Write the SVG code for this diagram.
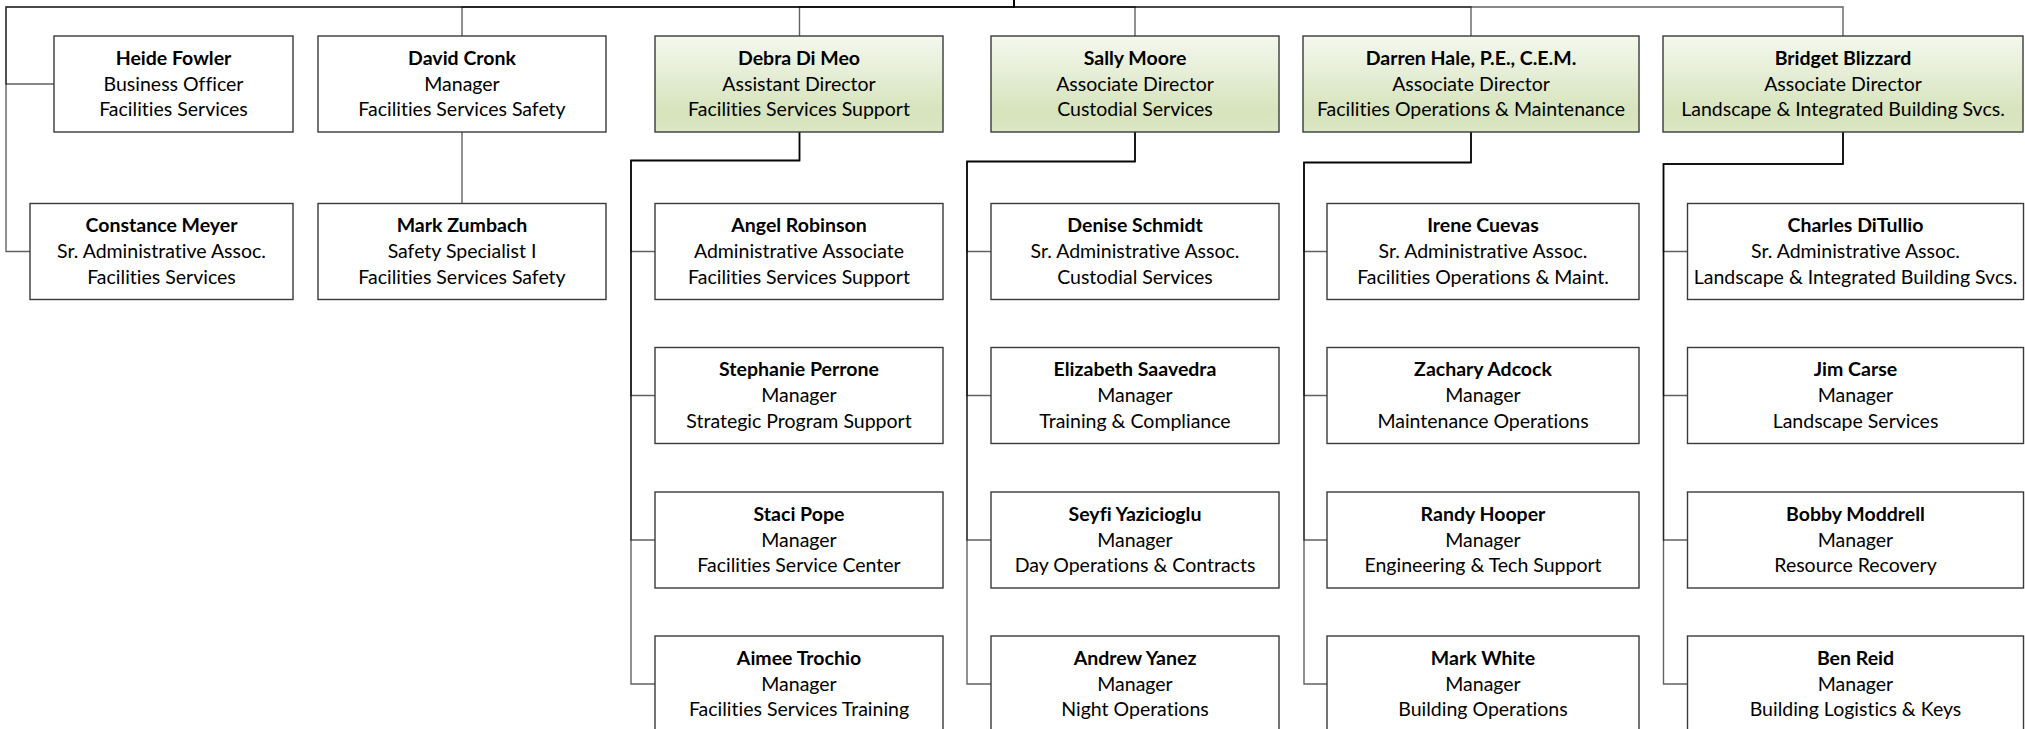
<svg xmlns="http://www.w3.org/2000/svg" width="2025" height="729" viewBox="0 0 2025 729">
<style>
.c{fill:none;stroke:#000;stroke-opacity:.62;stroke-width:1.4}
.b{fill:#fff;stroke:#3a3a3a;stroke-width:1.4}
.g{fill:url(#gr);stroke:#3a3a3a;stroke-width:1.4}
text{font-family:Lato,"Liberation Sans",sans-serif;font-size:19.5px;fill:#000;text-anchor:middle;font-variant-ligatures:none;font-feature-settings:"liga" 0}
.n{font-weight:bold}
</style>
<defs>
<linearGradient id="gr" x1="0" y1="0" x2="0" y2="1">
<stop offset="0" stop-color="#f4f8ee"/>
<stop offset="0.8" stop-color="#d6e3bc"/>
<stop offset="1" stop-color="#dbe6c5"/>
</linearGradient>
</defs>
<rect width="2025" height="729" fill="#fff"/>
<g id="connectors">
<path class="c" d="M1014,0V7H6V84H54"/>
<path class="c" d="M1014,0V7H6V251.5H30"/>
<path class="c" d="M1014,0V7H462V36"/>
<path class="c" d="M1014,0V7H799.5V36"/>
<path class="c" d="M1014,0V7H1135V36"/>
<path class="c" d="M1014,0V7H1471V36"/>
<path class="c" d="M1014,0V7H1843V36"/>
<path class="c" d="M462,132V203.5"/>
<path class="c" d="M799.5,132V160.5H631V251.5H655"/>
<path class="c" d="M799.5,132V160.5H631V395.5H655"/>
<path class="c" d="M799.5,132V160.5H631V540H655"/>
<path class="c" d="M799.5,132V160.5H631V684H655"/>
<path class="c" d="M1135,132V161.5H967V251.5H991"/>
<path class="c" d="M1135,132V161.5H967V395.5H991"/>
<path class="c" d="M1135,132V161.5H967V540H991"/>
<path class="c" d="M1135,132V161.5H967V684H991"/>
<path class="c" d="M1471,132V162.5H1304V251.5H1327"/>
<path class="c" d="M1471,132V162.5H1304V395.5H1327"/>
<path class="c" d="M1471,132V162.5H1304V540H1327"/>
<path class="c" d="M1471,132V162.5H1304V684H1327"/>
<path class="c" d="M1843,132V164H1663.5V251.5H1687.5"/>
<path class="c" d="M1843,132V164H1663.5V395.5H1687.5"/>
<path class="c" d="M1843,132V164H1663.5V540H1687.5"/>
<path class="c" d="M1843,132V164H1663.5V684H1687.5"/>
</g>
<g id="heide-fowler"><rect class="b" x="54" y="36" width="239" height="96"/><text x="173.5" y="64.5" class="n">Heide Fowler</text><text x="173.5" y="90.5">Business Officer</text><text x="173.5" y="116">Facilities Services</text></g>
<g id="david-cronk"><rect class="b" x="318" y="36" width="288" height="96"/><text x="462" y="64.5" class="n">David Cronk</text><text x="462" y="90.5">Manager</text><text x="462" y="116">Facilities Services Safety</text></g>
<g id="debra-di-meo"><rect class="g" x="655" y="36" width="288" height="96"/><text x="799" y="64.5" class="n">Debra Di Meo</text><text x="799" y="90.5">Assistant Director</text><text x="799" y="116">Facilities Services Support</text></g>
<g id="sally-moore"><rect class="g" x="991" y="36" width="288" height="96"/><text x="1135" y="64.5" class="n">Sally Moore</text><text x="1135" y="90.5">Associate Director</text><text x="1135" y="116">Custodial Services</text></g>
<g id="darren-hale"><rect class="g" x="1303" y="36" width="336" height="96"/><text x="1471" y="64.5" class="n">Darren Hale, P.E., C.E.M.</text><text x="1471" y="90.5">Associate Director</text><text x="1471" y="116">Facilities Operations &amp; Maintenance</text></g>
<g id="bridget-blizzard"><rect class="g" x="1663" y="36" width="360" height="96"/><text x="1843" y="64.5" class="n">Bridget Blizzard</text><text x="1843" y="90.5">Associate Director</text><text x="1843" y="116">Landscape &amp; Integrated Building Svcs.</text></g>
<g id="constance-meyer"><rect class="b" x="30" y="203.5" width="263" height="96"/><text x="161.5" y="232" class="n">Constance Meyer</text><text x="161.5" y="258">Sr. Administrative Assoc.</text><text x="161.5" y="283.5">Facilities Services</text></g>
<g id="mark-zumbach"><rect class="b" x="318" y="203.5" width="288" height="96"/><text x="462" y="232" class="n">Mark Zumbach</text><text x="462" y="258">Safety Specialist I</text><text x="462" y="283.5">Facilities Services Safety</text></g>
<g id="angel-robinson"><rect class="b" x="655" y="203.5" width="288" height="96"/><text x="799" y="232" class="n">Angel Robinson</text><text x="799" y="258">Administrative Associate</text><text x="799" y="283.5">Facilities Services Support</text></g>
<g id="stephanie-perrone"><rect class="b" x="655" y="347.5" width="288" height="96"/><text x="799" y="376" class="n">Stephanie Perrone</text><text x="799" y="402">Manager</text><text x="799" y="427.5">Strategic Program Support</text></g>
<g id="staci-pope"><rect class="b" x="655" y="492" width="288" height="96"/><text x="799" y="520.5" class="n">Staci Pope</text><text x="799" y="546.5">Manager</text><text x="799" y="572">Facilities Service Center</text></g>
<g id="aimee-trochio"><rect class="b" x="655" y="636" width="288" height="96"/><text x="799" y="664.5" class="n">Aimee Trochio</text><text x="799" y="690.5">Manager</text><text x="799" y="716">Facilities Services Training</text></g>
<g id="denise-schmidt"><rect class="b" x="991" y="203.5" width="288" height="96"/><text x="1135" y="232" class="n">Denise Schmidt</text><text x="1135" y="258">Sr. Administrative Assoc.</text><text x="1135" y="283.5">Custodial Services</text></g>
<g id="elizabeth-saavedra"><rect class="b" x="991" y="347.5" width="288" height="96"/><text x="1135" y="376" class="n">Elizabeth Saavedra</text><text x="1135" y="402">Manager</text><text x="1135" y="427.5">Training &amp; Compliance</text></g>
<g id="seyfi-yazicioglu"><rect class="b" x="991" y="492" width="288" height="96"/><text x="1135" y="520.5" class="n">Seyfi Yazicioglu</text><text x="1135" y="546.5">Manager</text><text x="1135" y="572">Day Operations &amp; Contracts</text></g>
<g id="andrew-yanez"><rect class="b" x="991" y="636" width="288" height="96"/><text x="1135" y="664.5" class="n">Andrew Yanez</text><text x="1135" y="690.5">Manager</text><text x="1135" y="716">Night Operations</text></g>
<g id="irene-cuevas"><rect class="b" x="1327" y="203.5" width="312" height="96"/><text x="1483" y="232" class="n">Irene Cuevas</text><text x="1483" y="258">Sr. Administrative Assoc.</text><text x="1483" y="283.5">Facilities Operations &amp; Maint.</text></g>
<g id="zachary-adcock"><rect class="b" x="1327" y="347.5" width="312" height="96"/><text x="1483" y="376" class="n">Zachary Adcock</text><text x="1483" y="402">Manager</text><text x="1483" y="427.5">Maintenance Operations</text></g>
<g id="randy-hooper"><rect class="b" x="1327" y="492" width="312" height="96"/><text x="1483" y="520.5" class="n">Randy Hooper</text><text x="1483" y="546.5">Manager</text><text x="1483" y="572">Engineering &amp; Tech Support</text></g>
<g id="mark-white"><rect class="b" x="1327" y="636" width="312" height="96"/><text x="1483" y="664.5" class="n">Mark White</text><text x="1483" y="690.5">Manager</text><text x="1483" y="716">Building Operations</text></g>
<g id="charles-ditullio"><rect class="b" x="1687.5" y="203.5" width="336" height="96"/><text x="1855.5" y="232" class="n">Charles DiTullio</text><text x="1855.5" y="258">Sr. Administrative Assoc.</text><text x="1855.5" y="283.5">Landscape &amp; Integrated Building Svcs.</text></g>
<g id="jim-carse"><rect class="b" x="1687.5" y="347.5" width="336" height="96"/><text x="1855.5" y="376" class="n">Jim Carse</text><text x="1855.5" y="402">Manager</text><text x="1855.5" y="427.5">Landscape Services</text></g>
<g id="bobby-moddrell"><rect class="b" x="1687.5" y="492" width="336" height="96"/><text x="1855.5" y="520.5" class="n">Bobby Moddrell</text><text x="1855.5" y="546.5">Manager</text><text x="1855.5" y="572">Resource Recovery</text></g>
<g id="ben-reid"><rect class="b" x="1687.5" y="636" width="336" height="96"/><text x="1855.5" y="664.5" class="n">Ben Reid</text><text x="1855.5" y="690.5">Manager</text><text x="1855.5" y="716">Building Logistics &amp; Keys</text></g>
</svg>
